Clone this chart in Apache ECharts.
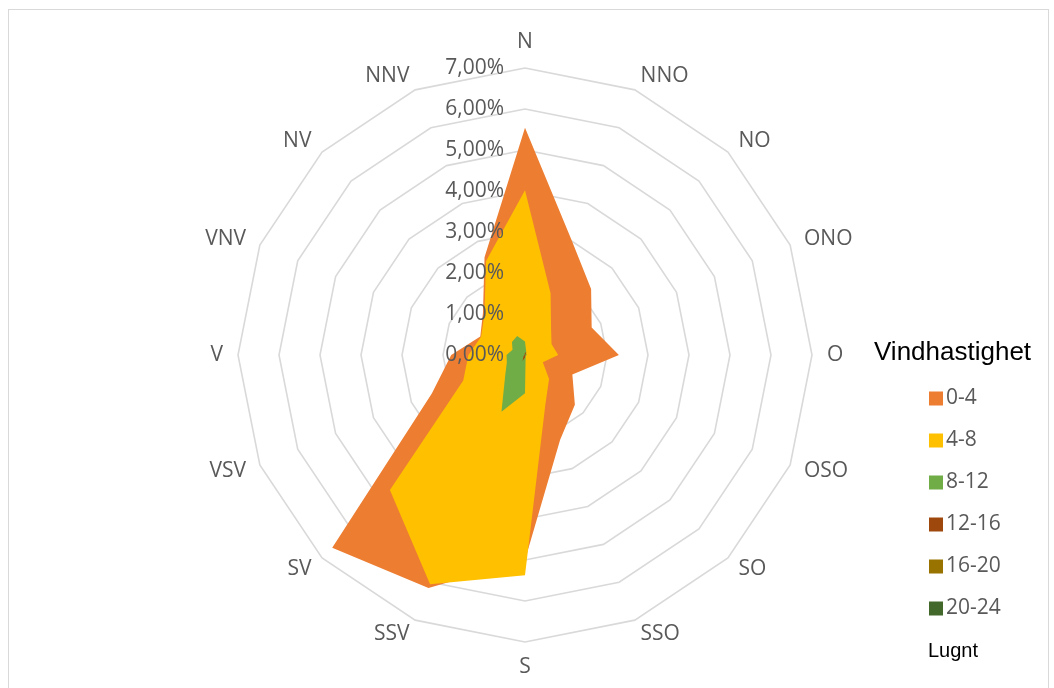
<!DOCTYPE html>
<html>
<head>
<meta charset="utf-8">
<script src="https://cdn.jsdelivr.net/npm/echarts@6/dist/echarts.min.js"></script>
<style>
html,body{margin:0;padding:0;background:#fff;}
#frame{position:absolute;left:8px;top:9px;width:1041px;height:700px;border:1px solid #d9d9d9;box-sizing:border-box;}
#chart{position:absolute;left:0;top:0;width:1054px;height:688px;}
</style>
</head>
<body>
<div id="frame"></div>
<div id="chart"></div>
<script>
// Directions, clockwise from north
const directions = ['N','NNO','NO','ONO','O','OSO','SO','SSO','S','SSV','SV','VSV','V','VNV','NV','NNV'];
const tickValues = [0,1,2,3,4,5,6,7];
const seriesNames = ['0-4','4-8','8-12','12-16','16-20','20-24','Lugnt'];
// values in percent, order = directions
const speed0_4   = [5.54,3.00,2.28,1.76,2.29,1.25,1.72,2.24,5.00,6.15,6.65,2.46,1.80,1.18,1.45,2.58];
const speed4_8   = [4.02,1.63,0.90,0.70,0.81,0.47,0.83,1.30,5.37,6.05,4.66,1.63,1.38,1.16,1.40,2.48];
const speed8_12  = [0.33,0.08,0.04,0.04,0.04,0.03,0.03,0.04,0.93,1.50,0.68,0.48,0.45,0.33,0.45,0.50];
const speed12_16 = [0.05,0.08,0.02,0.01,0.01,0.01,0.01,0.01,0.06,0.16,0.05,0.02,0.01,0.01,0.01,0.02];
const speed16_20 = [0,0,0,0,0,0,0,0,0,0,0,0,0,0,0,0];
const speed20_24 = [0,0,0,0,0,0,0,0,0,0,0,0,0,0,0,0];
const calm       = [0,0,0,0,0,0,0,0,0,0,0,0,0,0,0,0];
const colors = ['#ED7D31','#FFC000','#70AD47','#9E480E','#997300','#43682B','#ffffff'];

// ECharts radar runs counter-clockwise: reorder so the chart reads clockwise
const order = [0].concat(directions.map((d,i)=>i).slice(1).reverse());
const reorder = arr => order.map(i => arr[i]);
const allData = [speed0_4, speed4_8, speed8_12, speed12_16, speed16_20, speed20_24, calm];
const maxVal = tickValues[tickValues.length-1];

const fmt = v => v.toFixed(2).replace('.', ',') + '%';
const indicators = order.map(i => ({ name: directions[i], min: 0, max: maxVal }));
const labelIndicators = order.map((i, k) => {
  const ind = { name: '', min: 0, max: maxVal };
  if (k === 0) {
    ind.axisLabel = { show: true, color: '#595959', fontSize: 21, fontFamily: 'Open Sans',
      margin: 21, formatter: fmt, showMinLabel: true, showMaxLabel: true };
  }
  return ind;
});

const chart = echarts.init(document.getElementById('chart'), null, {renderer: 'canvas'});
chart.setOption({
  animation: false,
  title: {
    text: 'Vindhastighet', left: 869, top: 335,
    textStyle: { color: '#000', fontSize: 26, fontWeight: 'normal', fontFamily: 'Liberation Sans' }
  },
  legend: [{
    data: seriesNames.slice(0, 6).map(n => ({ name: n, icon: 'rect' })),
    orient: 'vertical', left: 924, top: 383,
    itemWidth: 14, itemHeight: 14, itemGap: 21,
    textStyle: { color: '#595959', fontSize: 21, fontFamily: 'Open Sans', padding: [0,0,0,-2] },
    selectedMode: false
  }, {
    data: [{ name: 'Lugnt', icon: 'none' }],
    orient: 'vertical', left: 918, top: 636,
    itemWidth: 0, itemHeight: 14,
    textStyle: { color: '#000', fontSize: 20, fontFamily: 'Liberation Sans' },
    selectedMode: false
  }],
  radar: [{
    center: [525, 355],
    radius: 287,
    startAngle: 90,
    splitNumber: tickValues.length - 1,
    shape: 'polygon',
    indicator: indicators,
    axisName: { color: '#595959', fontSize: 21, fontFamily: 'Open Sans' },
    nameGap: 15,
    axisLine: { show: false },
    axisTick: { show: false },
    axisLabel: { show: false },
    splitLine: { lineStyle: { color: '#D9D9D9', width: 1.6 } },
    splitArea: { show: false }
  }, {
    z: 10,
    center: [525, 355],
    radius: 287,
    startAngle: 90,
    splitNumber: tickValues.length - 1,
    shape: 'polygon',
    indicator: labelIndicators,
    axisName: { show: false },
    axisLine: { show: false },
    axisTick: { show: false },
    axisLabel: { show: false },
    splitLine: { show: false },
    splitArea: { show: false }
  }],
  series: [{
    type: 'radar',
    radarIndex: 0,
    symbol: 'none',
    silent: true,
    data: allData.map((arr, si) => ({
      name: seriesNames[si],
      value: reorder(arr),
      itemStyle: { color: colors[si] },
      lineStyle: { width: 0, color: colors[si] },
      areaStyle: { color: colors[si], opacity: si === 6 ? 0 : 1 }
    }))
  }]
});
</script>
</body>
</html>
